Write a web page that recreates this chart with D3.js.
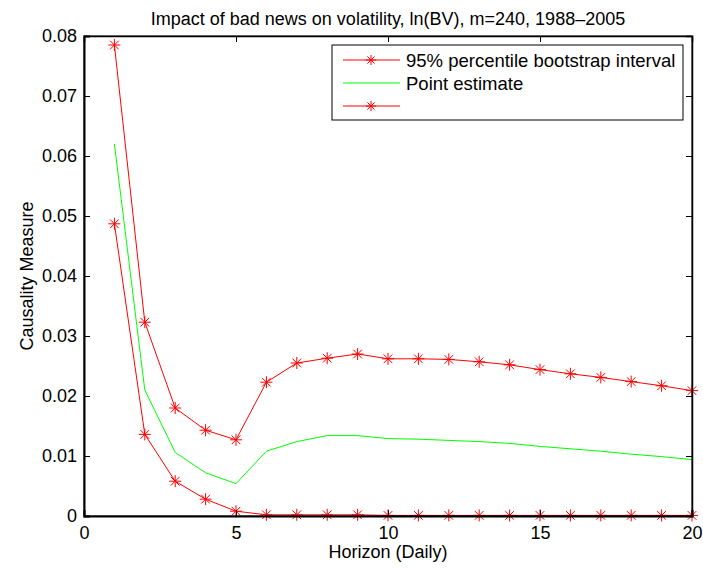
<!DOCTYPE html>
<html><head><meta charset="utf-8">
<script src="https://cdn.jsdelivr.net/npm/d3@7"></script>
<style>body{margin:0;background:#fff}svg{display:block}text{font-family:"Liberation Sans",Arial,sans-serif}</style>
</head><body>
<svg id="c" width="703" height="571"></svg>
<script>
const horizon = d3.range(1, 21);
const upper = [0.0785,0.0323,0.0180,0.0143,0.0127,0.0223,0.0255,0.0263,0.0270,0.0262,0.0262,0.0261,0.0257,0.0252,0.0244,0.0237,0.0231,0.0224,0.0217,0.0209];
const point = [0.0620,0.0210,0.0106,0.0072,0.0054,0.0108,0.0124,0.0134,0.0134,0.0129,0.0128,0.0126,0.0124,0.0121,0.0116,0.0112,0.0108,0.0103,0.0099,0.0094];
const lower = [0.0487,0.0136,0.0058,0.0028,0.0008,0.0002,0.0002,0.0002,0.0002,0.0001,0.0001,0.0001,0.0001,0.0001,0.0001,0.0001,0.0001,0.0001,0.0001,0.0001];
const xTicks = [0,5,10,15,20];
const yTicks = [0,0.01,0.02,0.03,0.04,0.05,0.06,0.07,0.08];
const legendLabels = ["95% percentile bootstrap interval","Point estimate",""];
const title = "Impact of bad news on volatility, ln(BV), m=240, 1988\u20132005";

const svg = d3.select("#c");
const L=84,R=692,T=36,B=516;
const x = d3.scaleLinear().domain([0,20]).range([L,R]);
const y = d3.scaleLinear().domain([0,0.08]).range([B,T]);

const g = svg.append("g");
const line = d3.line().x((d,i)=>x(horizon[i])).y(d=>y(d));
function star(sel, cx, cy, r){
  const gg = sel.append("g").attr("stroke","#ff0000").attr("stroke-width",1);
  gg.append("line").attr("x1",cx-r).attr("x2",cx+r).attr("y1",cy).attr("y2",cy);
  gg.append("line").attr("x1",cx).attr("x2",cx).attr("y1",cy-r).attr("y2",cy+r);
  const d=r*0.72;
  gg.append("line").attr("x1",cx-d).attr("x2",cx+d).attr("y1",cy-d).attr("y2",cy+d);
  gg.append("line").attr("x1",cx-d).attr("x2",cx+d).attr("y1",cy+d).attr("y2",cy-d);
}
g.append("path").attr("d",line(point)).attr("fill","none").attr("stroke","#00ff00").attr("stroke-width",1);
[upper,lower].forEach(s=>{
  g.append("path").attr("d",line(s)).attr("fill","none").attr("stroke","#ff0000").attr("stroke-width",1);
  s.forEach((v,i)=>star(g,x(horizon[i]),y(v),6));
});

svg.append("rect").attr("x",L).attr("y",T).attr("width",R-L).attr("height",B-T).attr("fill","none").attr("stroke","#000").attr("stroke-width",1);
const ax = svg.append("g").attr("transform",`translate(0,${B})`).call(d3.axisBottom(x).tickValues(xTicks).tickSize(-6).tickPadding(10).tickFormat(d3.format("d")));
const ay = svg.append("g").attr("transform",`translate(${L},0)`).call(d3.axisLeft(y).tickValues(yTicks).tickSize(-6).tickPadding(7).tickFormat(d=>d===0?"0":d3.format(".2f")(d)));
const axt = svg.append("g").attr("transform",`translate(0,${T})`).call(d3.axisTop(x).tickValues(xTicks).tickSize(-6).tickFormat(""));
const ayr = svg.append("g").attr("transform",`translate(${R},0)`).call(d3.axisRight(y).tickValues(yTicks).tickSize(-6).tickFormat(""));
[ax,ay,axt,ayr].forEach(a=>{a.select(".domain").attr("stroke","#000").attr("stroke-width",1.5);a.selectAll("text").attr("font-size",18).attr("fill","#000").attr("font-family","Liberation Sans, Arial, sans-serif");a.selectAll(".tick line").attr("stroke","#000");});
ax.select(".domain").attr("stroke-width",2);
ay.select(".domain").attr("stroke-width",2);

svg.append("text").attr("x",(L+R)/2).attr("y",25).attr("text-anchor","middle").attr("font-size",18).text(title);
svg.append("text").attr("x",(L+R)/2).attr("y",558).attr("text-anchor","middle").attr("font-size",18).text("Horizon (Daily)");
svg.append("text").attr("transform",`translate(33,${(T+B)/2}) rotate(-90)`).attr("text-anchor","middle").attr("font-size",18).text("Causality Measure");

const lg = svg.append("g");
lg.append("rect").attr("x",332).attr("y",45).attr("width",351).attr("height",75).attr("fill","#fff").attr("stroke","#000").attr("stroke-width",1);
const rows=[{c:"#ff0000",m:true},{c:"#00ff00",m:false},{c:"#ff0000",m:true}];
rows.forEach((r,i)=>{
  const yy = 60 + i*23;
  lg.append("line").attr("x1",343).attr("x2",400).attr("y1",yy).attr("y2",yy).attr("stroke",r.c).attr("stroke-width",1);
  if(r.m) star(lg,371,yy,5);
  lg.append("text").attr("x",406).attr("y",yy+6.5).attr("font-size",18.5).text(legendLabels[i]);
});
</script>
</body></html>
